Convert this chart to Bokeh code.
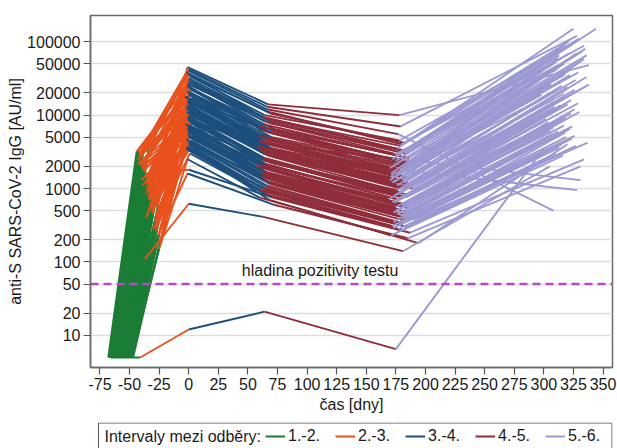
from bokeh.plotting import figure
from bokeh.layouts import column
from bokeh.models import (FixedTicker, NumeralTickFormatter, Span, Label, Legend,
                          LegendItem, Range1d)
from bokeh.embed import file_html
from bokeh.resources import INLINE

FONT = "Liberation Sans"

# ---- data: days relative to 3rd sampling, anti-S IgG [AU/ml] for each subject ----
t1 = [-66, -62, -58, -60, -55, -64, -52, -68, -57, -50,
      -63, -59, -54, -67, -61, -53, -65, -56, -49, -62,
      -58, -51, -66, -60, -55, -47, -64, -57, -52, -63,
      -59, -54, -61, -48, -65, -58, -53, -67, -56, -50,
      -62, -59, -54, -64, -57, -51, -66, -60, -55, -49,
      -63, -58, -52, -61, -56, -50, -65, -59, -53, -62,
      -57, -48, -67, -60, -55, -51, -64, -58, -53, -62,
      -56, -52, -60, -55, -65, -50, -62, -57, -53, -67,
      -59, -54, -49, -63, -58, -52, -61, -56, -50, -64,
      -57, -53, -66, -60, -55, -48]
v1 = [5, 5, 5, 5, 5, 5, 5, 5, 5, 5,
      5, 5, 5, 5, 5, 5, 5, 5, 5, 5,
      5, 5, 5, 5, 5, 5, 5, 5, 5, 5,
      5, 5, 5, 5, 5, 5, 5, 5, 5, 5,
      5, 5, 5, 5, 5, 5, 5, 5, 5, 5,
      5, 5, 5, 5, 5, 5, 5, 5, 5, 5,
      5, 5, 5, 5, 5, 5, 5, 5, 5, 5,
      5, 5, 5, 5, 5, 5, 5, 5, 5, 5,
      5, 5, 5, 5, 5, 5, 5, 5, 5, 5,
      5, 5, 5, 5, 5, 5]
t2 = [-41, -37, -33, -34, -30, -38, -28, -44, -31, -26,
      -40, -35, -29, -42, -36, -27, -39, -32, -25, -38,
      -34, -27, -43, -35, -31, -24, -40, -33, -29, -39,
      -34, -30, -37, -25, -41, -32, -28, -43, -30, -26,
      -38, -36, -29, -40, -33, -27, -42, -36, -31, -24,
      -39, -34, -28, -37, -32, -26, -41, -35, -29, -38,
      -33, -25, -43, -35, -30, -27, -40, -34, -28, -37,
      -31, -28, -36, -31, -40, -27, -37, -32, -29, -42,
      -35, -30, -26, -39, -33, -28, -36, -31, -25, -41,
      -32, -28, -42, -35, -30, -24]
v2 = [5, 110, 900, 3500, 1800, 3800, 2500, 3200, 1200, 600,
      2000, 1500, 800, 2800, 400, 1000, 3000, 700, 250, 1700,
      500, 300, 2200, 900, 450, 200, 1300, 600, 350, 1100,
      750, 280, 1600, 150, 2600, 1900, 1100, 3300, 650, 420,
      2400, 850, 550, 2900, 1400, 320, 2100, 1000, 480, 180,
      1800, 700, 260, 1250, 520, 230, 3100, 2700, 1300, 3600,
      950, 380, 2500, 1150, 620, 400, 1900, 820, 300, 1450,
      2000, 1600, 2300, 1700, 3400, 900, 2600, 1200, 700, 3000,
      1400, 560, 330, 2000, 900, 420, 1500, 650, 240, 2900,
      1600, 1000, 3500, 1300, 750, 280]
t3 = [0, 0, -1, 0, 1, -2, 0, -1, 2, 0,
      -3, 1, -1, 0, 2, 0, -2, 1, 0, -1,
      0, 2, -3, 0, 1, 0, -1, 0, 2, 0,
      -2, 1, 0, -1, 0, 1, -1, 0, 2, 0,
      -2, 0, 1, -1, 0, 2, 0, -1, 0, 1,
      0, -2, 0, 1, 0, -1, 0, 2, 0, -1,
      1, 0, -2, 0, 1, 0, -1, 2, 0, -1,
      0, 1, 0, -1, 1, 0, -2, 1, 0, -1,
      2, 0, 1, 0, -1, 0, 1, 0, -2, 0,
      1, 0, -1, 0, 2, 0]
v3 = [12, 620, 45000, 40000, 3500, 38000, 30000, 25000, 22000, 20000,
      18000, 16000, 15000, 14000, 13000, 12000, 11000, 10000, 9500, 9000,
      8500, 8000, 7500, 7000, 6500, 6000, 5500, 5000, 4500, 4000,
      3500, 3000, 1800, 2500, 35000, 28000, 24000, 19000, 17000, 14500,
      12500, 11500, 10500, 9800, 8800, 7800, 7200, 6800, 6200, 5800,
      5200, 4700, 4200, 3800, 3300, 1600, 42000, 33000, 26000, 21000,
      18500, 16500, 13500, 11000, 9200, 7000, 6300, 5300, 4400, 3700,
      15000, 12000, 32000, 27000, 23000, 19500, 17500, 15500, 13000, 11800,
      10200, 9000, 8200, 7400, 6600, 5900, 5000, 4300, 3600, 37000,
      29000, 20500, 16000, 12800, 10800, 8600]
t4 = [64, 63, 67, 66, 68, 62, 70, 60, 72, 65,
      61, 74, 66, 58, 69, 63, 71, 67, 62, 75,
      64, 68, 59, 66, 73, 61, 70, 65, 67, 62,
      69, 64, 71, 60, 68, 63, 72, 59, 66, 70,
      61, 67, 73, 64, 68, 62, 57, 71, 66, 63,
      69, 74, 65, 60, 67, 72, 66, 64, 69, 62,
      70, 65, 58, 68, 63, 71, 67, 61, 69, 64,
      66, 63, 65, 68, 62, 71, 66, 63, 69, 60,
      72, 65, 70, 62, 67, 64, 70, 66, 61, 69,
      64, 67, 59, 68, 73, 63]
v4 = [21, 410, 14000, 12000, 700, 9500, 8000, 7000, 6000, 5000,
      4500, 5500, 4000, 3800, 3500, 3000, 3200, 2800, 2500, 3000,
      2200, 2000, 2100, 1900, 1800, 1600, 1500, 1400, 1200, 1000,
      900, 850, 750, 750, 11000, 7500, 6500, 5200, 4200, 4800,
      3400, 2900, 3300, 2600, 2300, 1700, 2000, 1750, 1550, 1300,
      1350, 1100, 1050, 950, 820, 600, 13000, 10000, 8500, 6800,
      5000, 4600, 3700, 3100, 2400, 2200, 1650, 1450, 1150, 1000,
      4000, 3500, 9000, 7800, 6200, 5600, 4700, 4300, 3600, 3300,
      2700, 2500, 2300, 2000, 1800, 1500, 1300, 1100, 950, 10500,
      8200, 5800, 4400, 3400, 2900, 2100]
t5 = [175, 181, 178, 177, 194, 176, 183, 172, 185, 179,
      171, 187, 180, 170, 182, 176, 186, 178, 174, 189,
      177, 181, 172, 180, 185, 175, 183, 179, 182, 173,
      184, 177, 187, 171, 180, 176, 186, 170, 181, 183,
      174, 179, 188, 177, 182, 175, 169, 184, 178, 176,
      183, 190, 180, 172, 181, 185, 179, 178, 182, 174,
      185, 177, 171, 180, 176, 186, 181, 173, 184, 178,
      180, 178, 179, 183, 175, 186, 180, 176, 182, 172,
      185, 178, 184, 174, 181, 177, 183, 180, 173, 182,
      177, 180, 171, 181, 188, 176]
v5 = [6.5, 140, 10000, 5500, 180, 3500, 3000, 2500, 2200, 1800,
      1600, 2000, 1500, 1300, 1200, 1100, 1400, 900, 800, 1000,
      700, 750, 650, 600, 550, 500, 480, 420, 400, 350,
      300, 280, 250, 230, 4000, 2800, 2600, 1900, 1700, 1900,
      1250, 1000, 1150, 850, 780, 560, 720, 600, 520, 450,
      440, 380, 330, 310, 270, 210, 7000, 4500, 3300, 2900,
      2100, 1650, 1350, 1050, 950, 820, 580, 470, 360, 320,
      2500, 1800, 3800, 3200, 2400, 2300, 1800, 1600, 1400, 1200,
      1000, 880, 760, 640, 560, 460, 400, 340, 290, 4200,
      2900, 2000, 1500, 1300, 1100, 720]
t6 = [300, 305, 338, 308, 320, 325, 344, 318, 335, 312,
      300, 328, 322, 296, 315, 305, 332, 318, 308, 326,
      311, 320, 298, 316, 330, 304, 324, 312, 319, 302,
      327, 310, 334, 297, 321, 313, 333, 299, 317, 329,
      306, 315, 336, 309, 323, 303, 294, 326, 314, 307,
      322, 337, 318, 301, 316, 331, 328, 319, 325, 311,
      334, 306, 298, 320, 309, 329, 317, 305, 324, 313,
      331, 328, 330, 322, 310, 336, 318, 305, 327, 299,
      332, 314, 323, 302, 319, 308, 326, 315, 300, 334,
      312, 321, 297, 317, 338, 306]
v6 = [3500, 2000, 48000, 500, 4000, 150000, 150000, 90000, 80000, 60000,
      45000, 70000, 35000, 30000, 25000, 20000, 55000, 18000, 15000, 22000,
      12000, 14000, 10000, 9000, 11000, 8000, 7000, 6000, 5000, 4500,
      3800, 3000, 2500, 2200, 100000, 65000, 75000, 40000, 50000, 38000,
      28000, 17000, 33000, 13000, 16000, 7500, 9500, 12000, 8500, 5500,
      6500, 4200, 5800, 3300, 2800, 2000, 120000, 85000, 95000, 42000,
      58000, 26000, 19000, 24000, 11500, 14500, 7200, 6200, 4800, 3600,
      1300, 950, 110000, 70000, 52000, 65000, 36000, 27000, 30000, 21000,
      23000, 13500, 10500, 8800, 9200, 6800, 5200, 4000, 2900, 88000,
      48000, 40000, 16000, 19500, 26000, 7800]

legend_title = "Intervaly mezi odběry:"
interval_labels = ["1.-2.", "2.-3.", "3.-4.", "4.-5.", "5.-6."]
interval_colors = ["#1b7d36", "#e9521d", "#1d4f7d", "#8f2d3b", "#9c99d2"]
x_ticks = [-75, -50, -25, 0, 25, 50, 75, 100, 125, 150, 175, 200, 225, 250, 275, 300, 325, 350]
y_ticks = [10, 20, 50, 100, 200, 500, 1000, 2000, 5000, 10000, 20000, 50000, 100000]
positivity_level = 50

times = [t1, t2, t3, t4, t5, t6]
vals = [v1, v2, v3, v4, v5, v6]
N = len(t1)

p = figure(width=617, height=422, y_axis_type="log",
           x_range=Range1d(-83, 358), y_range=Range1d(3.65, 227000),
           output_backend="svg", toolbar_location=None,
           min_border_left=90, min_border_right=5, min_border_top=15, min_border_bottom=55)

p.outline_line_color = "#6a6a6a"
p.outline_line_width = 1.5
p.xgrid.visible = False
yt = FixedTicker(ticks=y_ticks)
p.yaxis.ticker = yt
p.ygrid.ticker = yt
p.ygrid.grid_line_color = "#dedede"
p.ygrid.grid_line_width = 1.5
p.xaxis.ticker = FixedTicker(ticks=x_ticks)
p.yaxis.formatter = NumeralTickFormatter(format="0")
p.xaxis.formatter = NumeralTickFormatter(format="0")

for ax in (p.xaxis, p.yaxis):
    ax.axis_line_color = "#6a6a6a"
    ax.axis_line_width = 1.5
    ax.major_tick_line_color = "#555555"
    ax.major_tick_line_width = 1.2
    ax.major_tick_out = 7
    ax.major_tick_in = 0
    ax.minor_tick_line_color = None
    ax.major_label_text_font = FONT
    ax.major_label_text_font_size = "16px"
    ax.major_label_text_color = "#1a1a1a"
    ax.major_label_standoff = 3
    ax.axis_label_text_font = FONT
    ax.axis_label_text_font_size = "16px"
    ax.axis_label_text_font_style = "normal"
    ax.axis_label_text_color = "#1a1a1a"
p.xaxis.axis_label_standoff = 3
p.yaxis.axis_label_standoff = 0

p.xaxis.axis_label = "čas [dny]"
p.yaxis.axis_label = "anti-S SARS-CoV-2 IgG [AU/ml]"

for k in range(5):
    xs = [[times[k][i], times[k + 1][i]] for i in range(N)]
    ys = [[vals[k][i], vals[k + 1][i]] for i in range(N)]
    p.multi_line(xs, ys, line_color=interval_colors[k], line_width=1.9)

p.add_layout(Span(location=positivity_level, dimension="width", line_color="#b24dc0",
                  line_width=2.5, line_dash="8 5"))
p.add_layout(Label(x=111, y=positivity_level, y_offset=5, text="hladina pozitivity testu",
                   text_align="center", text_baseline="bottom", text_font=FONT,
                   text_font_size="16px", text_color="#1a1a1a"))

# ---- legend strip below the chart (x range in page pixels over the aligned frame) ----
q = figure(width=617, height=26, x_range=Range1d(90, 612), y_range=Range1d(0, 26),
           output_backend="svg", toolbar_location=None,
           x_axis_location=None, y_axis_location=None,
           min_border_left=90, min_border_right=5, min_border_top=0, min_border_bottom=0)
q.grid.visible = False
q.outline_line_color = None
q.quad(left=98, right=611.5, bottom=-6, top=25.5, fill_color=None,
       line_color="#555555", line_width=1)
q.add_layout(Label(x=104, y=12, text=legend_title, text_baseline="middle",
                   text_font=FONT, text_font_size="16px", text_color="#1a1a1a"))
items = []
for lab, c in zip(interval_labels, interval_colors):
    r = q.line(x=[-500, -400], y=[-50, -50], line_color=c, line_width=2)
    items.append(LegendItem(label=lab, renderers=[r]))
legend = Legend(items=items, orientation="horizontal", location=(175, 3),
                border_line_color=None, background_fill_alpha=0,
                padding=0, margin=0, spacing=15, label_standoff=3, glyph_width=20,
                glyph_height=18, label_height=18,
                label_text_font=FONT, label_text_font_size="16px", label_text_color="#1a1a1a")
q.add_layout(legend)

open("out.html", "w").write(file_html(column(p, q), INLINE))
